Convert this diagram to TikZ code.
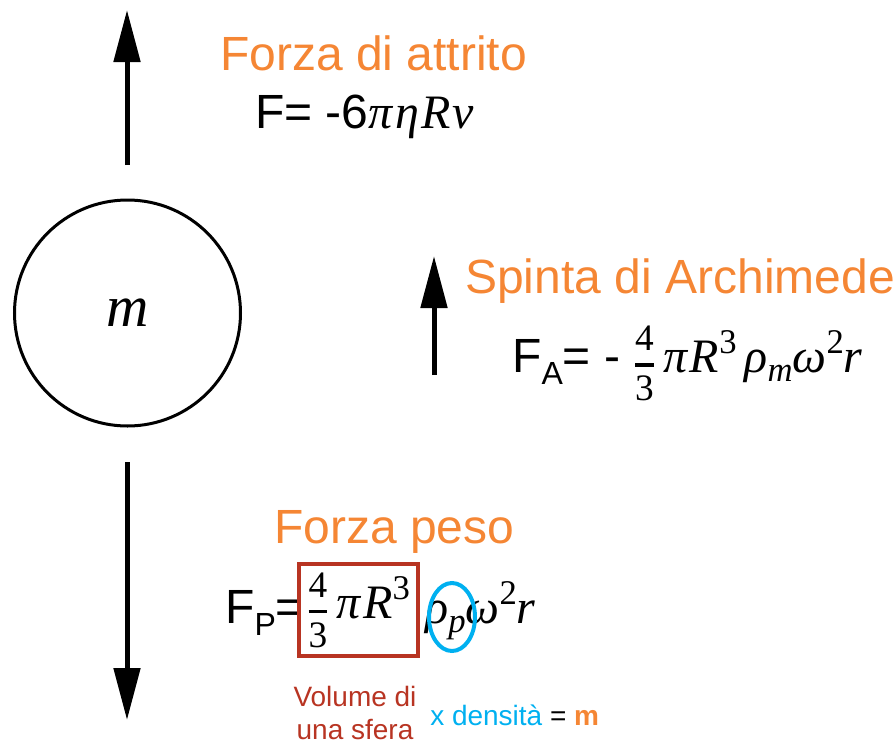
\documentclass[tikz,border=0pt]{standalone}
\usepackage{fontspec}
\setmainfont{Liberation Sans}
\newfontfamily\seriffont{Liberation Serif}
\newfontfamily\mathfont[LetterSpace=5]{Liberation Serif}
\usetikzlibrary{arrows.meta,shapes.geometric}
\definecolor{orng}{RGB}{245,134,52}
\definecolor{boxred}{RGB}{184,52,34}
\definecolor{skyblue}{RGB}{0,176,240}
\newcommand{\bigtxt}{\fontsize{36}{43}\selectfont}
\newcommand{\smalltxt}{\fontsize{21}{25}\selectfont}
\newcommand{\lowsub}[1]{\raisebox{-9pt}{\fontsize{24}{28}\selectfont #1}}
\newcommand{\mi}[1]{{\mathfont\itshape #1}}
\newcommand{\msub}[1]{\raisebox{-7pt}{\seriffont\itshape\fontsize{26}{30}\selectfont #1}}
\newcommand{\msup}[1]{\raisebox{14pt}{\seriffont\fontsize{26}{30}\selectfont #1}}
\newcommand{\fourthirds}{\ensuremath{\vcenter{\hbox{$\displaystyle{\mbox{\seriffont\fontsize{28}{30}\selectfont 4}\above 2.4pt \mbox{\seriffont\fontsize{28}{30}\selectfont 3}}$}}}}
\begin{document}
\begin{tikzpicture}[x=0.75pt,y=-0.75pt,
  force/.style={line width=3.75pt,-{Triangle[length=39pt,width=19.5pt]}},
  title/.style={anchor=base west,inner sep=0pt,text=orng,font=\bigtxt},
  formula/.style={anchor=base west,inner sep=0pt,font=\bigtxt},
  note/.style={inner sep=0pt,font=\smalltxt,align=center}]
\useasboundingbox (0,0) rectangle (894,740);
% sphere
\node[circle,draw,line width=2.25pt,minimum size=169.5pt,inner sep=0pt] (ball) at (127.5,313)
  {\seriffont\itshape\fontsize{44}{50}\selectfont m};
% arrows
\coordinate (t0) at (127,165); \coordinate (t1) at (127,10);
\coordinate (m0) at (434,375); \coordinate (m1) at (434,256);
\coordinate (b0) at (127,462); \coordinate (b1) at (127,720);
\draw[force] (t0) -- (t1);
\draw[force] (m0) -- (m1);
\draw[force] (b0) -- (b1);
% friction
\node[title] (fa) at (220,70) {Forza di attrito};
\node[formula] (ffa) at (255,128) {F= -6\mi{πηRv}};
% Archimedes
\node[title] (sa) at (465,293) {Spinta di Archimede};
\node[formula] (ffs) at (512,372) {F\lowsub{A}= - \fourthirds\,\mi{πR}\msup{3}\,\mi{ρ}\msub{m}\mi{ω}\msup{2}\mi{r}};
% weight
\node[title] (fp) at (274,543) {Forza peso};
\node[formula] (fpl) at (225,623) {F\lowsub{P}=};
\node[draw=boxred,line width=3pt,minimum width=89pt,minimum height=69pt,inner sep=0pt] (vol) at (358.5,610)
  {\bigtxt\fourthirds\,\mi{πR}\msup{3}};
\node[formula] (rest) at (425,623) {\mi{ρ}\msub{p}\mi{ω}\msup{2}\mi{r}};
\node[ellipse,draw=skyblue,line width=3pt,minimum width=34.5pt,minimum height=51pt,inner sep=0pt] (dens) at (452,617) {};
% notes
\node[note,text=boxred,anchor=north] (vtxt) at (355,686) {Volume di\\una sfera};
\node[anchor=base west,inner sep=0pt,font=\smalltxt] (dtxt) at (430,725)
  {\textcolor{skyblue}{x densità} = \textcolor{orng}{\bfseries m}};
\end{tikzpicture}
\end{document}
